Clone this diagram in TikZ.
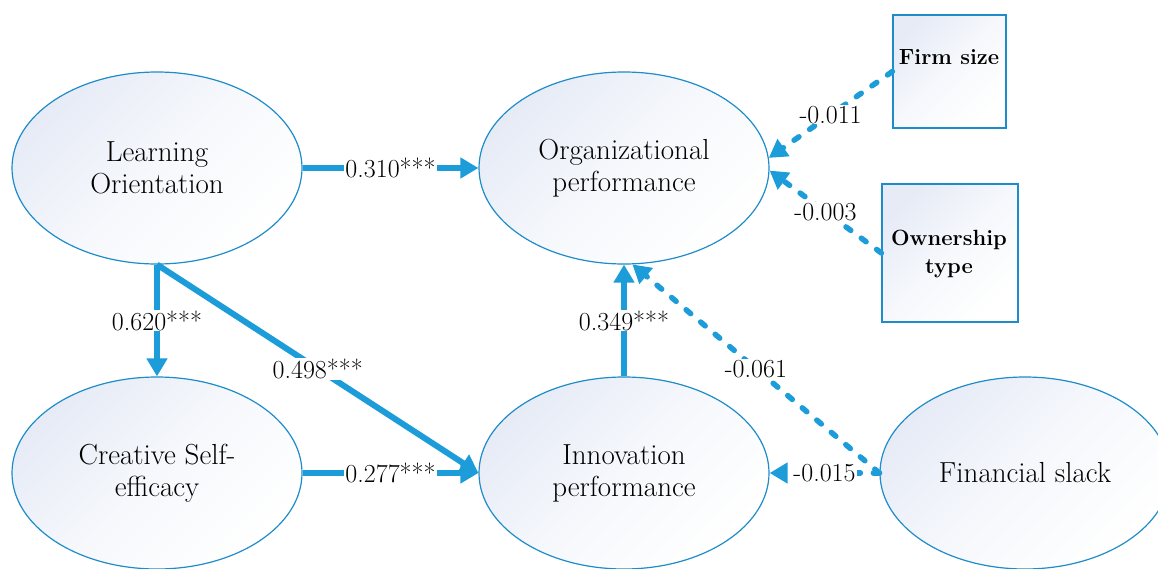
\documentclass[tikz,border=0pt]{standalone}
\usetikzlibrary{shapes.geometric,arrows.meta}
\definecolor{arrowblue}{RGB}{28,157,217}
\definecolor{edgeblue}{RGB}{30,140,200}
\definecolor{fillblue}{RGB}{230,235,246}
\definecolor{fillmid}{RGB}{246,248,252}
\tikzset{
 latent/.style={ellipse, draw=edgeblue, line width=1.2pt, minimum width=290pt, minimum height=192pt, inner sep=0pt, top color=fillblue, bottom color=white, middle color=fillmid, shading angle=45, align=center, font=\fontsize{29}{32}\selectfont},
 ctrlbox/.style={rectangle, draw=edgeblue, line width=1.2pt, top color=fillblue, bottom color=white, middle color=fillmid, shading angle=45, inner sep=0pt},
 ctrltext/.style={align=center, inner sep=0pt, font=\bfseries\fontsize{22}{28}\selectfont},
 solidpath/.style={draw=arrowblue, line width=6pt, -{Triangle[length=18pt,width=20pt]}},
 dashpath/.style={draw=arrowblue, line width=5.5pt, line cap=round, dash pattern=on 6pt off 13pt, -{Triangle[length=18pt,width=20pt]}},
 coef/.style={fill=white, inner sep=1pt, font=\fontsize{26}{30}\selectfont},
}
\begin{document}
\begin{tikzpicture}[x=1pt,y=-1pt]
\useasboundingbox (0,0) rectangle (1158,568);
\clip (0,0) rectangle (1158,568);
% latent variables
\node[latent] (LO) at (157,168) {Learning\\Orientation};
\node[latent] (OP) at (624,168) {Organizational\\performance};
\node[latent] (CS) at (157,473) {Creative Self-\\efficacy};
\node[latent] (IP) at (624,473) {Innovation\\performance};
\node[latent] (FS) at (1025,473) {Financial slack};
% control variables
\node[ctrlbox, minimum width=113pt, minimum height=113pt] (FZ) at (949.5,71.5) {};
\node[ctrltext] (FZt) at (949,57) {Firm size};
\node[ctrlbox, minimum width=136pt, minimum height=138pt] (OT) at (950,253) {};
\node[ctrltext] (OTt) at (949,254) {Ownership\\type};
% structural paths
\draw[solidpath] (LO.east) -- node[coef] (c1) {0.310***} (OP.west);
\draw[solidpath] (LO.south) -- node[coef] (c2) {0.620***} (CS.north);
\draw[solidpath] (LO.south) -- node[coef] (c3) {0.498***} (IP.west);
\draw[solidpath] (CS.east) -- node[coef] (c4) {0.277***} (IP.west);
\draw[solidpath] (IP.north) -- node[coef] (c5) {0.349***} (OP.south);
% control paths
\draw[dashpath] (FZ.west) -- node[coef] (c6) {-0.011} (OP.4);
\draw[dashpath] (OT.west) -- node[coef] (c7) {-0.003} (OP.-1);
\draw[dashpath] (FS.west) -- node[coef] (c8) {-0.061} (OP.-85);
\draw[dashpath] (FS.west) -- node[coef] (c9) {-0.015} (IP.east);
\end{tikzpicture}
\end{document}
